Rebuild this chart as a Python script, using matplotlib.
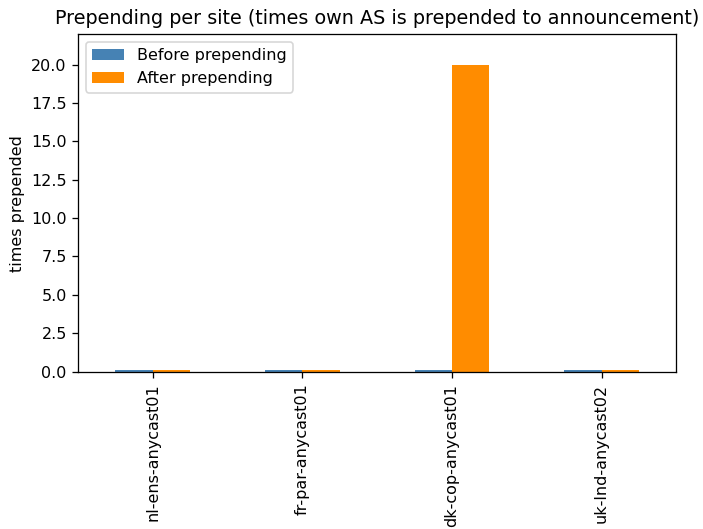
import numpy as np
import matplotlib
matplotlib.use("Agg")
import matplotlib.pyplot as plt

# prepend counts per anycast site
sites = ["nl-ens-anycast01", "fr-par-anycast01", "dk-cop-anycast01", "uk-lnd-anycast02"]
before = [0.12, 0.12, 0.12, 0.12]
after = [0.12, 0.12, 20, 0.12]

dpi = 115
fig, ax = plt.subplots(figsize=(703 / dpi, 529 / dpi), dpi=dpi)
x = np.arange(len(sites))
w = 0.25
ax.bar(x - w / 2, before, w, color="steelblue", label="Before prepending")
ax.bar(x + w / 2, after, w, color="darkorange", label="After prepending")

ax.set_xticks(x)
ax.set_xticklabels(sites, rotation=90)
ax.set_xlim(-0.5, len(sites) - 0.5)
ax.set_ylim(-0.05, 22)
ax.set_yticks(np.arange(0, 22, 2.5))
ax.set_ylabel("times prepended")
ax.set_title("Prepending per site (times own AS is prepended to announcement)")
ax.legend(loc="upper left")

fig.subplots_adjust(left=0.111, right=0.962, top=0.936, bottom=0.296)
fig.savefig("out.png", dpi=dpi)
